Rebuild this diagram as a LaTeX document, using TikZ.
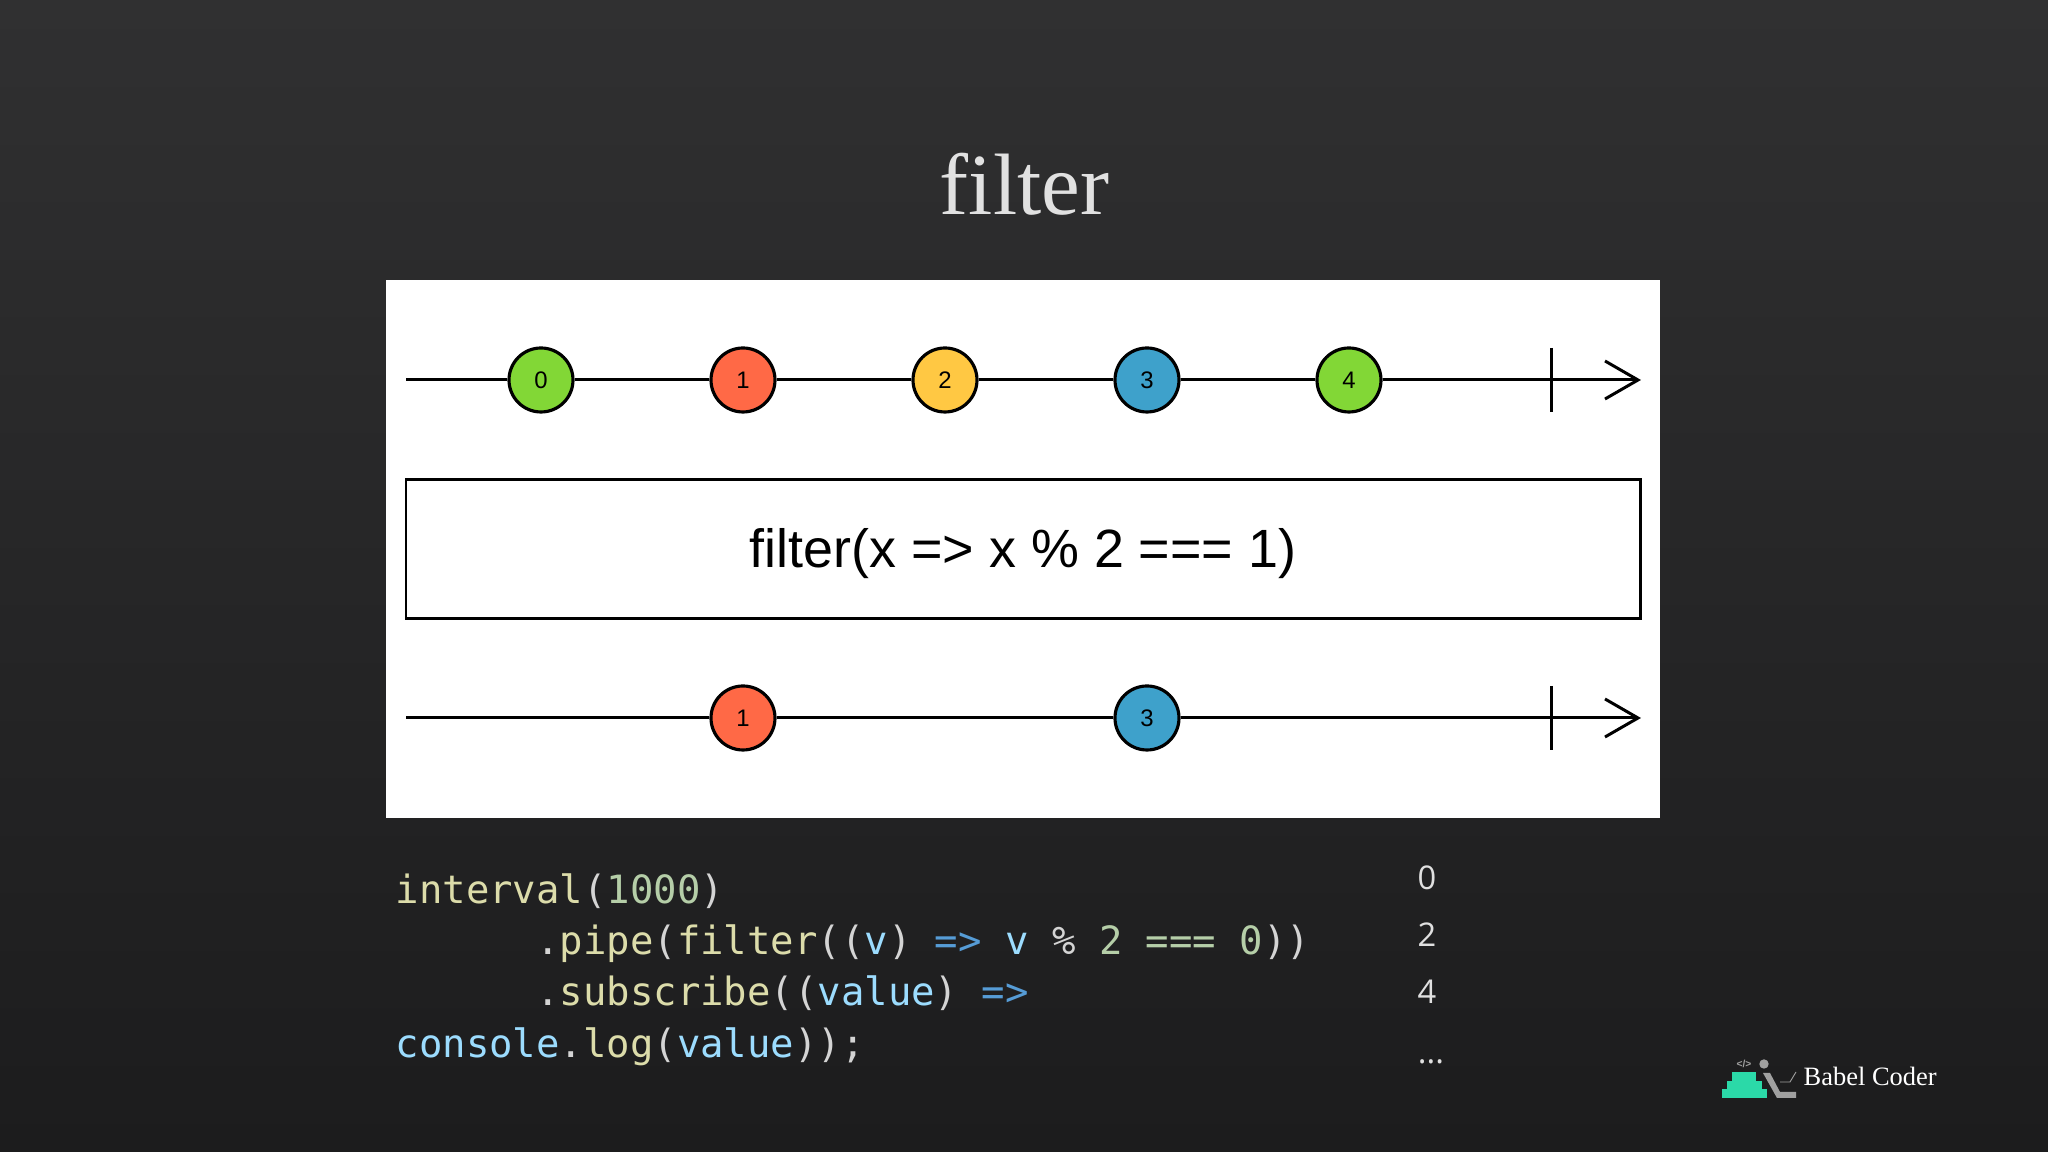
\documentclass[tikz,border=0pt]{standalone}
\usepackage{fontspec}
\usepackage{tikz}
\usetikzlibrary{arrows.meta, positioning}
\setmainfont{Liberation Serif}
\newfontfamily\diagramfont{Liberation Sans}
\newfontfamily\codefont{DejaVu Sans Mono}
\newfontfamily\outputfont{Open Sans}
\definecolor{slidetop}{RGB}{48,48,49}
\definecolor{slidebottom}{RGB}{28,28,29}
\definecolor{titlegray}{RGB}{225,225,225}
\definecolor{mygreen}{RGB}{130,215,54}
\definecolor{myred}{RGB}{255,105,70}
\definecolor{myyellow}{RGB}{255,200,67}
\definecolor{myblue}{RGB}{62,161,203}
\definecolor{codefn}{RGB}{220,220,170}
\definecolor{codenum}{RGB}{181,206,168}
\definecolor{codevar}{RGB}{156,220,254}
\definecolor{codekey}{RGB}{86,156,214}
\definecolor{codeplain}{RGB}{212,212,212}
\definecolor{logoteal}{RGB}{43,217,168}
\definecolor{logogray}{RGB}{160,160,160}
\newcommand{\cfn}[1]{\textcolor{codefn}{#1}}
\newcommand{\cnum}[1]{\textcolor{codenum}{#1}}
\newcommand{\cvar}[1]{\textcolor{codevar}{#1}}
\newcommand{\ckey}[1]{\textcolor{codekey}{#1}}
\tikzset{
    marble/.style={circle,draw=black,line width=0.9pt,minimum size=0.64cm,inner sep=0pt,font=\diagramfont\fontsize{6.8}{8}\selectfont},
    timeline/.style={line width=0.85pt,black},
    codeline/.style={anchor=base west,inner sep=0pt,text=codeplain,font=\codefont\fontsize{11.08}{13}\selectfont},
    outputline/.style={anchor=base,inner sep=0pt,text=white!88!black,font=\outputfont\fontsize{9.3}{11}\selectfont}
}

\begin{document}
\begin{tikzpicture}
    \useasboundingbox (0,0) rectangle (20.48,11.52);

    % Slide background and white panel
    \shade[top color=slidetop,bottom color=slidebottom] (0,0) rectangle (20.48,11.52);
    \fill[white] (3.86,3.34) rectangle (16.6,8.72);

    % Title
    \node[text=titlegray,font=\fontsize{24.8}{28}\selectfont,anchor=base,inner sep=0pt] (title) at (10.245,9.37) {filter};

    % Source stream
    \coordinate (startA) at (4.06,7.72);
    \coordinate (endA) at (16.41,7.72);
    \coordinate (tickAtop) at (15.51,8.04);
    \coordinate (tickAbot) at (15.51,7.4);
    \foreach \name/\x/\val/\col in {m0/5.41/0/mygreen,m1/7.43/1/myred,m2/9.45/2/myyellow,m3/11.47/3/myblue,m4/13.49/4/mygreen} {
        \node[marble,fill=\col] (\name) at (\x,7.72) {\val};
    }
    \draw[timeline] (startA) -- (m0);
    \draw[timeline] (m0) -- (m1);
    \draw[timeline] (m1) -- (m2);
    \draw[timeline] (m2) -- (m3);
    \draw[timeline] (m3) -- (m4);
    \draw[timeline,-{Straight Barb[length=3.3mm,width=3.8mm]}] (m4) -- (endA);
    \draw[timeline] (tickAtop) -- (tickAbot);

    % Operator box
    \node[draw=black,line width=0.85pt,minimum width=12.34cm,minimum height=1.39cm,inner sep=0pt] (filterbox) at (10.23,6.025) {};
    \node[inner sep=0pt,anchor=center,font=\diagramfont\fontsize{15.33}{18}\selectfont] (filterlabel) at (10.23,5.985) {filter(x => x \% 2 === 1)};

    % Result stream
    \coordinate (startB) at (4.06,4.34);
    \coordinate (endB) at (16.41,4.34);
    \coordinate (tickBtop) at (15.51,4.66);
    \coordinate (tickBbot) at (15.51,4.02);
    \node[marble,fill=myred] (r1) at (7.43,4.34) {1};
    \node[marble,fill=myblue] (r3) at (11.47,4.34) {3};
    \draw[timeline] (startB) -- (r1);
    \draw[timeline] (r1) -- (r3);
    \draw[timeline,-{Straight Barb[length=3.3mm,width=3.8mm]}] (r3) -- (endB);
    \draw[timeline] (tickBtop) -- (tickBbot);

    % Code
    \node[codeline] (code1) at (3.95,2.48) {\cfn{interval}(\cnum{1000})};
    \node[codeline] (code2) at (3.95,1.97) {\ \ \ \ \ \ .\cfn{pipe}(\cfn{filter}((\cvar{v}) \ckey{=>} \cvar{v} \% \cnum{2} \cnum{===} \cnum{0}))};
    \node[codeline] (code3) at (3.95,1.46) {\ \ \ \ \ \ .\cfn{subscribe}((\cvar{value}) \ckey{=>}};
    \node[codeline] (code4) at (3.95,0.94) {\cvar{console}.\cfn{log}(\cvar{value}));};

    % Output
    \node[outputline] (out0) at (14.27,2.62) {0};
    \node[outputline] (out1) at (14.27,2.05) {2};
    \node[outputline] (out2) at (14.27,1.48) {4};
    \node[outputline] (out3) at (14.31,0.88) {...};

    % Logo
    \fill[logoteal] (17.22,0.54) rectangle (17.67,0.63);
    \fill[logoteal] (17.27,0.63) rectangle (17.62,0.71);
    \fill[logoteal] (17.32,0.71) rectangle (17.56,0.8);
    \fill[logogray] (17.64,0.88) circle (0.047);
    \fill[logogray] (17.63,0.79) -- (17.7,0.79) -- (17.8,0.6) -- (17.96,0.6) -- (17.96,0.54) -- (17.77,0.54) -- cycle;
    \draw[logogray,line width=0.25pt] (17.8,0.7) -- (17.9,0.7) -- (17.96,0.8);
    \node[text=logogray,font=\diagramfont\bfseries\fontsize{2.9}{3}\selectfont,inner sep=0pt] (logotag) at (17.44,0.88) {</>};
    \node[text=white,font=\fontsize{7.53}{9}\selectfont,anchor=base west,inner sep=0pt] (brand) at (18.03,0.66) {Babel Coder};
\end{tikzpicture}
\end{document}
